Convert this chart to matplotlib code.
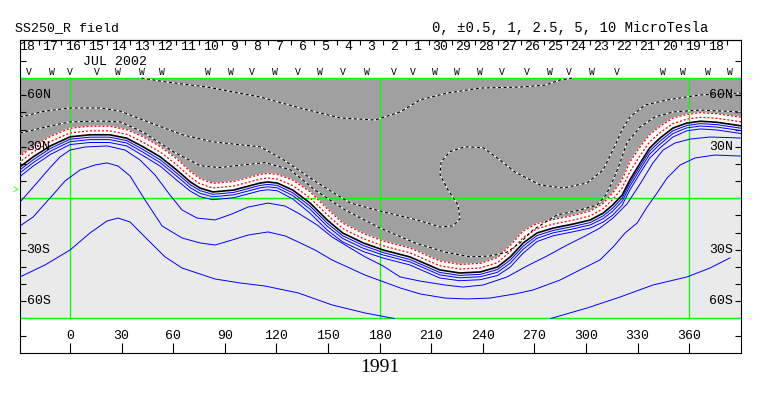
import numpy as np
import matplotlib
matplotlib.use("Agg")
import matplotlib.pyplot as plt

# ------------------------------------------------------------------
# Source surface field synoptic map (SS250_R).
# lon = Carrington longitude (deg), lat = latitude (deg)
# ------------------------------------------------------------------

# neutral line and the lines hugging it share one longitude grid
band_lon = [-30, -21.5, -11.5, 0, 11.5, 23, 33, 42.5, 52.5, 62, 70, 75.5, 83, 95,
            110.5, 115, 120.5, 129.5, 139.5, 149.5, 158.5, 170.5, 182, 197.5, 215,
            226.5, 238.5, 248.5, 256, 263.5, 271.5, 281, 292.5, 302.5, 310, 315.5,
            321, 325.5, 331.5, 337, 343, 350.5, 358.5, 366.5, 376, 391]
lat_zero = [17.6, 24.1, 30.5, 35.8, 37.0, 37.0, 35.0, 30.0, 24.1, 16.5, 9.5, 6.0, 3.7, 4.8,
            8.9, 9.5, 8.9, 4.8, -2.7, -12.6, -20.2, -26.0, -30.1, -34.1, -41.7,
            -43.5, -42.9, -40.0, -34.1, -26.0, -20.2, -17.3, -15.0, -12.6, -8.6, -3.9,
            1.9, 10.7, 20.6, 29.3, 35.1, 40.9, 43.8, 44.9, 44.3, 42.1]
lat_neg05 = [20.5, 26.9, 33.0, 38.1, 39.3, 39.3, 37.3, 32.6, 26.9, 19.5, 12.3, 8.5, 6.0, 7.1,
             11.2, 11.8, 11.2, 7.4, 0.3, -9.6, -17.6, -23.5, -27.7, -31.7, -39.3,
             -41.2, -40.6, -37.5, -31.0, -22.8, -17.7, -15.0, -12.7, -10.2, -6.0, -0.7,
             6.0, 15.5, 25.0, 32.9, 38.2, 43.5, 46.1, 47.2, 46.6, 44.4]
lat_neg1 = [23.9, 30.1, 36.0, 40.8, 42.0, 42.0, 40.0, 35.8, 30.1, 23.0, 15.5, 11.5, 8.7, 9.8,
            13.9, 14.5, 13.9, 10.6, 3.8, -6.1, -14.4, -20.5, -24.9, -28.9, -36.5,
            -38.5, -37.9, -34.5, -27.4, -19.0, -14.7, -12.3, -10.0, -7.4, -2.9, 3.1,
            10.9, 21.2, 30.1, 37.1, 41.9, 46.7, 48.8, 49.9, 49.3, 47.1]
lat_pos05 = [15.9, 22.4, 29.0, 34.4, 35.6, 35.6, 33.6, 28.4, 22.4, 14.7, 7.8, 4.5, 2.3, 3.4,
             7.5, 8.1, 7.5, 3.2, -4.5, -14.4, -21.8, -27.5, -31.6, -35.6, -43.2,
             -44.9, -44.3, -41.5, -35.9, -27.8, -21.7, -18.7, -16.4, -14.1, -10.2, -5.7,
             0.1, 8.9, 18.8, 27.5, 33.3, 39.3, 42.4, 43.5, 42.9, 40.7]
lat_pos1 = [14.1, 20.7, 27.4, 33.0, 34.2, 34.2, 32.2, 26.8, 20.7, 12.9, 6.1, 2.9, 0.9, 2.0,
            6.1, 6.7, 6.1, 1.6, -6.3, -16.2, -23.4, -29.1, -33.0, -37.0, -44.6,
            -46.3, -45.7, -43.1, -37.7, -29.6, -23.3, -20.1, -17.8, -15.5, -11.8, -7.5,
            -1.7, 7.1, 17.0, 25.7, 31.5, 37.7, 41.0, 42.1, 41.5, 39.3]
lat_pos25 = [12.0, 18.7, 25.5, 31.3, 32.5, 32.5, 30.5, 24.8, 18.7, 10.6, 4.1, 1.0, -0.8, 0.3,
             4.4, 5.0, 4.4, -0.4, -8.6, -18.5, -25.4, -31.0, -34.8, -38.8, -46.4,
             -48.0, -47.4, -45.0, -40.0, -31.9, -25.2, -21.8, -19.5, -17.3, -13.8, -9.8,
             -4.0, 4.9, 14.8, 23.4, 29.3, 35.7, 39.3, 40.4, 39.8, 37.6]

# the wider positive contours
pos5_lon = [-29.1, -20.3, -11.6, -5.8, 0, 8.7, 21.5, 32, 40.7, 49.4, 58.1, 65.1, 73.8, 84.3,
            94.2, 103.5, 115.1, 125, 132.6, 143.6, 152.3, 162.8, 171.5, 182, 191.9, 203.5,
            218, 228.5, 240.1, 254.1, 265.7, 277.3, 289, 299.4, 308.1, 315.7, 323.8, 331.4,
            338.9, 344.8, 351.7, 360.5, 372.1, 390.1]
pos5_lat = [-2.2, 7.8, 17.9, 24.1, 28.1, 29.9, 30.5, 28.1, 22.3, 13.6, 1.9, -6.8, -11.5, -12.6,
            -9.1, -5.1, -2.8, -4.5, -8.6, -15.5, -22.5, -28.9, -34.1, -39.4, -45.8, -48.2,
            -50.5, -51.7, -50.5, -45.8, -39.4, -33.6, -27.2, -22.0, -17.3, -11.5, -3.3, 8.3,
            20.6, 28.1, 32.2, 34.5, 35.7, 35.1]
pos10_lon = [-29.1, -21.5, -11.6, -2.9, 5.8, 14.5, 21.5, 27.9, 34.9, 43.6, 53.5, 65.1, 75.6,
             84.3, 94.2, 103.5, 115.1, 125, 132.6, 142.4, 152.3, 171.5, 191.9, 203.5, 218,
             230.8, 244.2, 258.7, 269.2, 284.9, 296.5, 308.1, 315.7, 322.7, 329.7, 335.5,
             341.3, 347.1, 354.7, 363.4, 375, 390.1]
pos10_lat = [-16.1, -10.9, 0.2, 10.1, 16.5, 19.4, 20.6, 18.8, 13.0, -1.0, -16.1, -23.1, -26.0,
             -27.2, -24.3, -21.4, -19.6, -21.9, -25.4, -30.1, -35.9, -44.7, -52.2, -55.7, -58.1,
             -58.6, -58.1, -55.7, -53.4, -47.6, -41.7, -35.9, -28.4, -20.2, -14.4, -5.1,
             3.1, 11.8, 19.4, 23.5, 25.2, 24.6]
pos20a_lon = [-29.1, -14.5, 0, 11.6, 21.5, 27.9, 34.9, 45.3, 55.2, 65.1, 84.3, 98.8, 113.4,
              132.6, 152.3, 171.5, 188.5]
pos20a_lat = [-45.8, -38.8, -30.1, -20.2, -13.2, -11.5, -13.8, -24.3, -34.1, -40.6, -47.0,
              -49.3, -51.1, -55.1, -62.1, -66.8, -70.0]
pos20b_lon = [279.5, 300.6, 319.8, 338.9, 358.7, 372.1, 383.7]
pos20b_lat = [-70.0, -63.9, -57.5, -50.5, -45.8, -40.6, -34.7]

# negative contours inside the dark region
neg25_lon = [-29.1, -11.6, 0, 17.4, 29.1, 42.4, 59.9, 75.6, 87.2, 101.7, 113.4, 127.9, 142.4,
             159.9, 180.2, 200.6, 218, 232.6, 244.2, 254.1, 261.6, 269.2, 283.1, 296.5, 306.4,
             311.6, 316.3, 319.8, 323.8, 331.4, 340.1, 350.6, 366.3, 390.1]
neg25_lat = [38.0, 42.1, 44.5, 45.0, 44.5, 38.6, 27.2, 19.0, 17.9, 19.6, 20.8, 16.7, 4.8,
             -6.8, -17.3, -26.0, -31.3, -34.1, -33.6, -31.3, -26.0, -18.4, -9.7, -6.8, -3.9,
             1.9, 11.8, 20.8, 32.4, 41.5, 47.4, 50.3, 51.4, 50.3]
neg5_lon = [-29.1, -14.5, 0, 17.4, 29.1, 42.4, 65.7, 83.1, 98.8, 110.5, 123.8, 143.6, 162.8,
            180.2, 201.7, 215.1, 222.7, 226.7, 225.6, 219.8, 215.1, 215.7, 220.9, 229.7,
            240.1, 250, 258.7, 273.3, 286.6, 300.6, 309.9, 315.7, 320.9, 325.6, 334.3,
            347.1, 366.3, 390.1]
neg5_lat = [47.4, 50.8, 52.6, 52.6, 50.8, 45.6, 36.9, 32.9, 31.2, 30.0, 22.6, 9.2, -2.7,
            -7.4, -12.6, -16.7, -16.1, -12.0, -3.9, 4.8, 13.6, 21.2, 27.2, 30.0,
            29.5, 22.3, 15.3, 7.8, 6.0, 8.9, 16.5, 28.3, 39.8, 47.4, 54.3,
            57.3, 60.2, 61.3]
neg10_lon = [41.5, 56.4, 79.7, 110.5, 133.7, 157, 177.3, 191.9, 203.5, 219.2, 238.4, 261.6,
             276.2, 284.9, 291.9]
neg10_lat = [70.0, 67.7, 64.8, 59.0, 52.6, 46.8, 45.6, 50.3, 57.3, 61.3, 64.2, 64.8,
             65.9, 68.9, 70.0]

# axis annotations
lon_ticks = [0, 30, 60, 90, 120, 150, 180, 210, 240, 270, 300, 330, 360]
lat_ticks = [-80, -70, -60, -50, -40, -30, -20, -10, 0, 10, 20, 30, 40, 50, 60, 70, 80]
lat_labels = {60: "60N", 30: "30N", -30: "30S", -60: "60S"}
day_labels = ["18", "17", "16", "15", "14", "13", "12", "11", "10", "9", "8", "7", "6",
              "5", "4", "3", "2", "1", "30", "29", "28", "27", "26", "25", "24", "23",
              "22", "21", "20", "19", "18"]
mark_lon = [-24.2, -10.6, 0, 15.5, 28.1, 41.7, 53.7, 80.4, 93.6, 106, 119.2, 132.7, 145.3,
            158.9, 172.5, 188, 199.6, 212.2, 225.2, 238.4, 251, 265.5, 279.1, 290.3,
            303.3, 318.2, 344.6, 356.6, 371.1, 383.7]
mark_txt = ["V", "W", "V", "V", "W", "W", "W", "W", "W", "V", "W", "V", "W", "V", "W",
            "V", "V", "W", "W", "W", "V", "V", "W", "V", "W", "V", "W", "W", "W", "W"]

MONO = "Liberation Mono"
DARK = "#a0a0a0"
LIGHT = "#eaeaea"
GREEN = "#00ff00"

fig = plt.figure(figsize=(7.63, 3.96), dpi=100)
ax = fig.add_axes([20 / 763, 1 - 353 / 396, 721 / 763, 313 / 396])
ax.set_xlim(-29.1, 390.1)
ax.set_ylim(-90.1, 92.2)

# shading: positive light, thin band white, negative dark
ax.axhspan(-70, 70, color=LIGHT, lw=0, zorder=0)
ax.fill_between(band_lon, lat_neg1, 70, color=DARK, lw=0, zorder=1)
ax.fill_between(band_lon, lat_zero, lat_neg1, color="white", lw=0, zorder=1)

# green reference grid
for lat in [-70, 0, 70]:
    ax.axhline(lat, color=GREEN, lw=1.0, zorder=2)
for lon in [0, 180, 360]:
    ax.plot([lon, lon], [-70, 70], color=GREEN, lw=0.9, zorder=2)

# positive contours (blue)
for lon, lat in [(band_lon, lat_pos05), (band_lon, lat_pos1), (band_lon, lat_pos25),
                 (pos5_lon, pos5_lat), (pos10_lon, pos10_lat),
                 (pos20a_lon, pos20a_lat), (pos20b_lon, pos20b_lat)]:
    ax.plot(lon, lat, color="#0000ff", lw=0.7, zorder=3)

# negative contours near the neutral line (red dotted)
for lat in [lat_neg05, lat_neg1]:
    ax.plot(band_lon, lat, color="white", lw=0.9, zorder=3)
    ax.plot(band_lon, lat, color="red", lw=0.9, dashes=(1.6, 1.6), zorder=4)

# stronger negative contours (black/white dashed)
for lon, lat in [(neg25_lon, neg25_lat), (neg5_lon, neg5_lat), (neg10_lon, neg10_lat)]:
    ax.plot(lon, lat, color="white", lw=0.8, zorder=3)
    ax.plot(lon, lat, color="black", lw=0.8, dashes=(2.8, 2.2), zorder=4)

# neutral line
ax.plot(band_lon, lat_zero, color="black", lw=1.2, zorder=5)

# frame and ticks
for sp in ax.spines.values():
    sp.set_linewidth(0.8)
ax.set_xticks(lon_ticks)
ax.set_yticks(lat_ticks)
ax.tick_params(axis="x", direction="in", length=7.2, width=0.8, bottom=True, top=False,
               labelbottom=False)
ax.tick_params(axis="y", direction="in", length=4.3, width=0.8, left=True, right=True,
               labelleft=False)

day_step = 13.35
day_c0 = -25.0
top = ax.secondary_xaxis("top")
top.set_xticks([day_c0 - day_step / 2 + k * day_step for k in range(len(day_labels) + 1)])
top.tick_params(direction="in", length=3.6, width=0.8, labeltop=False)
top.spines["top"].set_linewidth(0.8)

for lon in lon_ticks:
    ax.text(lon, -80, str(lon), ha="center", va="center", fontsize=9.5, family=MONO)
for lat, txt in lat_labels.items():
    ax.text(-25.3, lat, txt, ha="left", va="center", fontsize=9.5, family=MONO, zorder=6)
    ax.text(385.3, lat, txt, ha="right", va="center", fontsize=9.5, family=MONO, zorder=6)

for k, txt in enumerate(day_labels):
    ax.text(day_c0 + k * day_step, 88.0, txt, ha="center", va="center", fontsize=9.5,
            family=MONO)
ax.text(26.2, 79.4, "JUL 2002", ha="center", va="center", fontsize=9.5, family=MONO)
for lon, txt in zip(mark_lon, mark_txt):
    ax.text(lon, 73.8, txt, ha="center", va="center", fontsize=7, family=MONO)

ax.text(-31.5, 4.8, ">", ha="center", va="center", fontsize=7, color=GREEN,
        family=MONO, clip_on=False)

fig.text(15 / 763, 0.93, "SS250_R field", ha="left", va="center", fontsize=9.5, family=MONO)
fig.text(432 / 763, 0.93, "0, \u00b10.5, 1, 2.5, 5, 10 MicroTesla", ha="left", va="center",
         fontsize=10, family=MONO)
fig.text(380 / 763, 1 - 367 / 396, "1991", ha="center", va="center", fontsize=14,
         family="Liberation Serif")

fig.savefig("out.png", dpi=100)
